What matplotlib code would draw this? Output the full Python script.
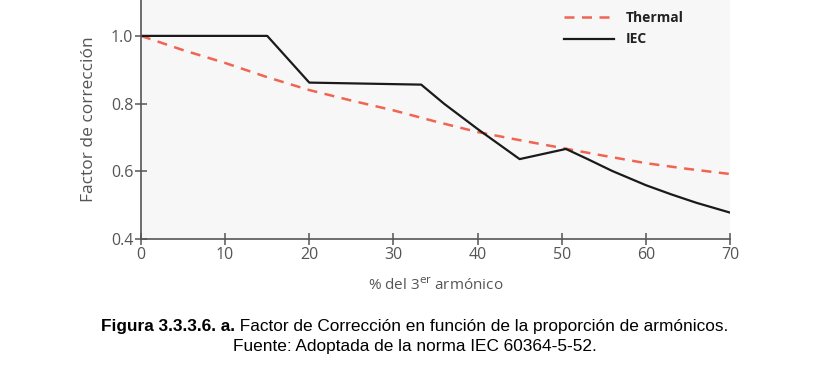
import matplotlib.pyplot as plt

# data
thermal_x = [0, 5, 10, 15, 20, 25, 30, 35, 40, 45, 50, 55, 60, 65, 70]
thermal_y = [1.0, 0.958, 0.92, 0.878, 0.84, 0.809, 0.78, 0.747, 0.716, 0.692,
             0.669, 0.646, 0.624, 0.607, 0.592]

iec_x = [0, 15, 20, 33.3, 36, 40, 45, 50.5, 53, 56, 60, 63, 66, 70]
iec_y = [1.0, 1.0, 0.862, 0.856, 0.80, 0.725, 0.636, 0.666, 0.637, 0.601,
         0.559, 0.532, 0.507, 0.478]

xticks = [0, 10, 20, 30, 40, 50, 60, 70]
yticks = [0.4, 0.6, 0.8, 1.0]

grey = '#555555'
plt.rcParams['font.family'] = ['Open Sans', 'DejaVu Sans']

fig = plt.figure(figsize=(8.3, 3.82), dpi=100)
ax = fig.add_axes([141 / 830, 1 - 239 / 382, (730 - 141) / 830, 239 / 382])
ax.set_facecolor('#f7f7f7')

ax.plot(thermal_x, thermal_y, color='#f06452', lw=1.8, ls=(0, (4, 3)), label='Thermal')
ax.plot(iec_x, iec_y, color='#1a1a1a', lw=1.6, label='IEC')

ax.set_xlim(0, 70)
ax.set_ylim(0.4, 1.106)
ax.set_xticks(xticks)
ax.set_yticks(yticks)
ax.set_yticklabels(['0.4', '0.6', '0.8', '1.0'])

for s in ['top', 'right']:
    ax.spines[s].set_visible(False)
for s in ['left', 'bottom']:
    ax.spines[s].set_color(grey)
    ax.spines[s].set_linewidth(1.2)
ax.tick_params(direction='inout', length=9, width=1.1, color=grey,
               labelcolor=grey, labelsize=11.5, pad=1)

ax.set_ylabel('Factor de corrección', color=grey, fontsize=12.5, labelpad=10)
ax.set_xlabel('% del 3$^{\\mathrm{er}}$ armónico', color=grey, fontsize=11, labelpad=10)

leg = ax.legend(loc='upper right', bbox_to_anchor=(0.942, 1.007), frameon=False,
                handlelength=3.6, fontsize=10, labelspacing=0.55)
for t in leg.get_texts():
    t.set_fontweight('bold')
    t.set_color('#222222')

# caption, first line: bold part + regular part, centred as a whole
cap_font = ['Liberation Sans', 'DejaVu Sans']
cap_size = 12.4
y1 = 1 - 326 / 382
t1 = fig.text(0, y1, 'Figura 3.3.3.6. a.', family=cap_font, fontsize=cap_size,
              fontweight='bold', va='center', ha='left')
t2 = fig.text(0, y1, ' Factor de Corrección en función de la proporción de armónicos.',
              family=cap_font, fontsize=cap_size, va='center', ha='left')
fig.canvas.draw()
w1 = t1.get_window_extent().width
w2 = t2.get_window_extent().width
x0 = 415 - (w1 + w2) / 2
t1.set_x(x0 / 830)
t2.set_x((x0 + w1) / 830)
fig.text(415 / 830, 1 - 347 / 382, 'Fuente: Adoptada de la norma IEC 60364-5-52.',
         family=cap_font, fontsize=cap_size, va='center', ha='center')

fig.savefig('out.png', dpi=100)
